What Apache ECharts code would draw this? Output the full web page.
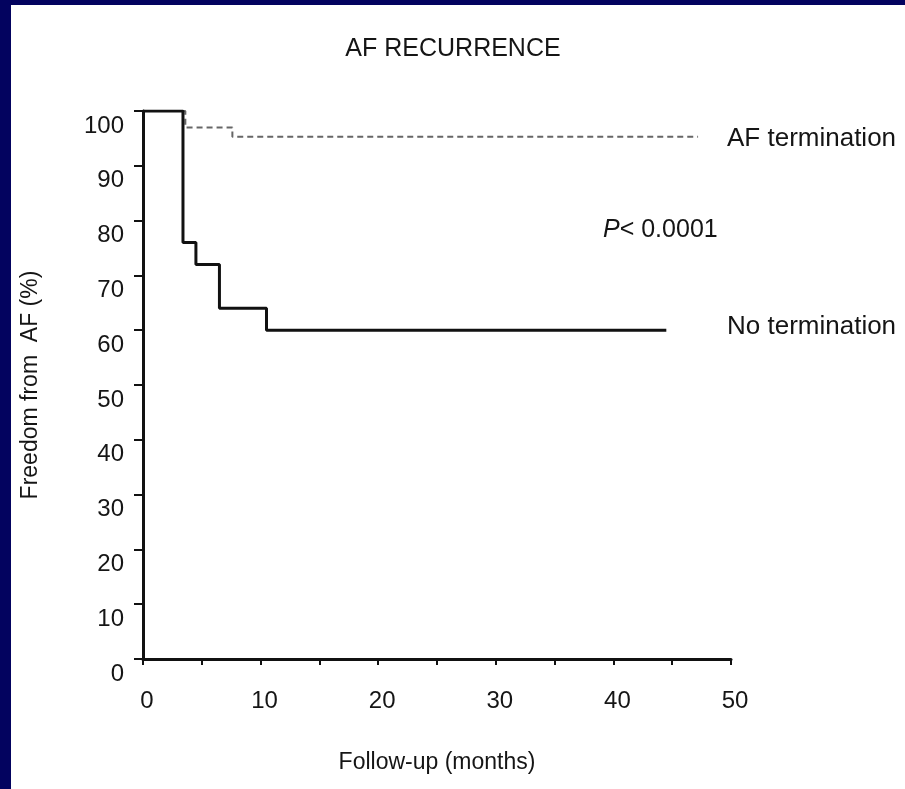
<!DOCTYPE html>
<html>
<head>
<meta charset="utf-8">
<script src="https://cdn.jsdelivr.net/npm/echarts@6/dist/echarts.min.js"></script>
<style>
html, body { margin: 0; padding: 0; background: #03035f; }
.panel { position: absolute; left: 11px; top: 5px; right: 0; bottom: 0; background: #fff; }
#main { position: absolute; left: 0; top: 0; width: 905px; height: 789px; }
</style>
</head>
<body>
<div class="panel"></div>
<div id="main"></div>
<script>
// step data (months, % free from AF)
var noTermMonths = [0, 3.4, 4.5, 6.5, 10.5, 44.5];
var noTermFree = [100, 76, 72, 64, 60, 60];
var termMonths = [0, 3.6, 7.6, 47.2];
var termFree = [100, 97, 95.3, 95.3];

var xTicks = [0, 10, 20, 30, 40, 50];
var yTicks = [0, 10, 20, 30, 40, 50, 60, 70, 80, 90, 100];

var font = 'Liberation Sans, Arial, sans-serif';
var ink = '#151515';

function pairs(xs, ys) {
    var out = [];
    for (var i = 0; i < xs.length; i++) out.push([xs[i], ys[i]]);
    return out;
}

var chart = echarts.init(document.getElementById('main'));
chart.setOption({
    backgroundColor: 'transparent',
    animation: false,
    textStyle: { fontFamily: font, color: ink },
    title: {
        text: 'AF RECURRENCE',
        left: 448,
        top: 32,
        textAlign: 'center',
        textStyle: { fontFamily: font, fontSize: 25, fontWeight: 'normal', color: ink }
    },
    grid: { left: 143, top: 111, width: 588, height: 548 },
    xAxis: {
        type: 'value',
        min: 0,
        max: 50,
        interval: 5,
        name: 'Follow-up (months)',
        nameLocation: 'middle',
        nameGap: 92,
        nameTextStyle: { fontFamily: font, fontSize: 23, color: ink },
        splitLine: { show: false },
        axisLine: { lineStyle: { color: '#111', width: 3 } },
        axisTick: { length: 6, lineStyle: { color: '#111', width: 2 } },
        axisLabel: {
            margin: 30,
            fontSize: 24,
            color: ink,
            padding: [0, 0, 0, 8],
            formatter: function (v) { return xTicks.indexOf(v) >= 0 ? String(v) : ''; }
        }
    },
    yAxis: {
        type: 'value',
        min: 0,
        max: 100,
        interval: 10,
        name: 'Freedom from  AF (%)',
        nameLocation: 'middle',
        nameGap: 101,
        nameTextStyle: { fontFamily: font, fontSize: 23, color: ink },
        splitLine: { show: false },
        axisLine: { lineStyle: { color: '#111', width: 3 } },
        axisTick: { length: 9, lineStyle: { color: '#111', width: 2 } },
        axisLabel: {
            margin: 19,
            fontSize: 24,
            lineHeight: 30,
            color: ink,
            verticalAlign: 'top',
            formatter: function (v) { return yTicks.indexOf(v) >= 0 ? String(v) : ''; }
        }
    },
    series: [
        {
            name: 'AF termination',
            type: 'line',
            step: 'end',
            symbol: 'none',
            data: pairs(termMonths, termFree),
            lineStyle: { color: '#666', width: 2, type: [6, 4] }
        },
        {
            name: 'No termination',
            type: 'line',
            step: 'end',
            symbol: 'none',
            data: pairs(noTermMonths, noTermFree),
            lineStyle: { color: '#111', width: 3 }
        }
    ],
    graphic: [
        {
            type: 'text', left: 727, top: 126,
            style: { text: 'AF termination', font: '26px ' + font, fill: ink }
        },
        {
            type: 'text', left: 727, top: 314,
            style: { text: 'No termination', font: '26px ' + font, fill: ink }
        },
        {
            type: 'text', left: 603, top: 218,
            style: {
                text: '{p|P}{r|< 0.0001}',
                rich: {
                    p: { fontFamily: font, fontSize: 25, fontStyle: 'italic', fill: ink },
                    r: { fontFamily: font, fontSize: 25, fill: ink }
                }
            }
        }
    ]
});
</script>
</body>
</html>
